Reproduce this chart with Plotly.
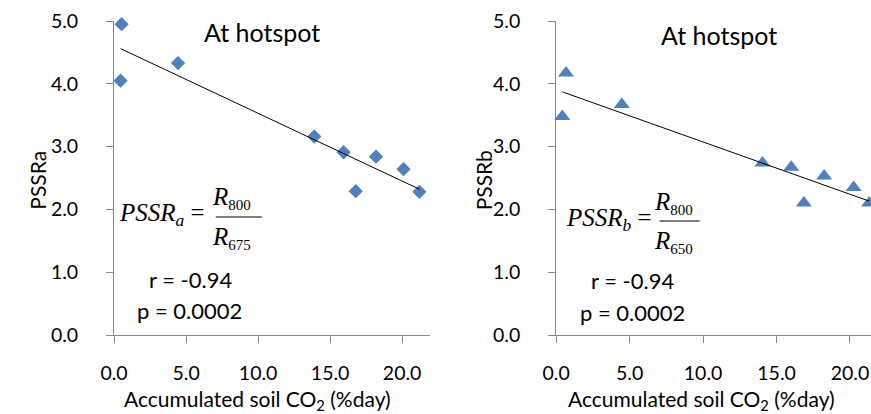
import numpy as np
import plotly.graph_objects as go

# ---- data ----
co2_a = [0.45, 0.52, 4.44, 13.9, 15.94, 16.78, 18.19, 20.1, 21.2]
pssr_a = [4.05, 4.95, 4.33, 3.16, 2.91, 2.29, 2.84, 2.64, 2.28]
co2_b = [0.42, 0.67, 4.47, 14.04, 16.0, 16.86, 18.24, 20.25, 21.3]
pssr_b = [3.48, 4.17, 3.67, 2.74, 2.67, 2.10, 2.53, 2.35, 2.10]
y_ticks = [0, 1, 2, 3, 4, 5]
x_ticks = [0, 5, 10, 15, 20]
title_text = "At hotspot"
x_title = "Accumulated soil CO<sub>2</sub> (%day)"
stats_text = ["r = -0.94", "p = 0.0002"]

W, H = 871, 414
T, B = 21, 79
PH = H - T - B

def px(x):
    return x / W

def py(y):
    return (H - B - y) / PH

BLUE = "#4F81BD"
AX = "#868686"
FONT = "Lato"

fig = go.Figure()

def trend(xs, ys):
    k, b = np.polyfit(xs, ys, 1)
    xx = np.array([min(xs), max(xs)])
    return xx, k * xx + b

# left panel
fig.add_trace(go.Scatter(x=co2_a, y=pssr_a, mode="markers", xaxis="x", yaxis="y",
                         marker=dict(symbol="diamond", size=11, color=BLUE, line=dict(width=0)),
                         cliponaxis=False, showlegend=False))
tx, ty = trend(co2_a, pssr_a)
fig.add_trace(go.Scatter(x=tx, y=ty, mode="lines", xaxis="x", yaxis="y",
                         line=dict(color="#000000", width=1), showlegend=False))
# right panel
fig.add_trace(go.Scatter(x=co2_b, y=pssr_b, mode="markers", xaxis="x2", yaxis="y2",
                         marker=dict(symbol="triangle-up", size=14, color=BLUE, line=dict(width=0)),
                         cliponaxis=False, showlegend=False))
tx, ty = trend(co2_b, pssr_b)
fig.add_trace(go.Scatter(x=tx, y=ty, mode="lines", xaxis="x2", yaxis="y2",
                         line=dict(color="#000000", width=1), showlegend=False))

axis_common = dict(showline=True, linecolor=AX, linewidth=1, ticks="outside",
                   ticklen=7, tickcolor=AX, showgrid=False, zeroline=False,
                   tickfont=dict(family=FONT, size=19.5, color="#000000"),
                   tickformat=".1f")

fig.update_layout(
    width=W, height=H,
    margin=dict(l=0, r=0, t=T, b=B),
    plot_bgcolor="white", paper_bgcolor="white",
    xaxis=dict(domain=[px(101.7), px(422.7)], range=[0, 21.93], tickvals=x_ticks,
               anchor="y", ticklabelstandoff=14, **axis_common),
    yaxis=dict(domain=[0, 1], range=[0, 5], tickvals=y_ticks, anchor="x",
               ticklabelstandoff=24, **axis_common),
    xaxis2=dict(domain=[px(551), 1.0], range=[0, 21.43], tickvals=x_ticks,
                anchor="y2", ticklabelstandoff=14, **axis_common),
    yaxis2=dict(domain=[0, 1], range=[0, 5], tickvals=y_ticks, anchor="x2",
                ticklabelstandoff=24, **axis_common),
)

ann = []

def text(x, y, s, size, family=FONT, angle=0):
    ann.append(dict(x=px(x), y=py(y), xref="paper", yref="paper", text=s,
                    showarrow=False, xanchor="center", yanchor="middle",
                    textangle=angle, font=dict(family=family, size=size, color="#000000")))

# titles
text(252, 32, title_text, 25)
text(717, 35, title_text, 25)
# axis titles
text(247.5, 400, x_title, 21)
text(699, 400, x_title, 21)
text(23, 180, "PSSRa", 21, angle=-90)
text(477, 180, "PSSRb", 21, angle=-90)
# stats
text(179, 279, stats_text[0], 22)
text(178.5, 310, stats_text[1], 22)
text(629, 280, stats_text[0], 22)
text(629, 312, stats_text[1], 22)

# formulas
SER = "Liberation Serif"
SUB = "<span style='font-size:15px'>"

def formula(eq_right, eq_y, sub, frac_x0, frac_x1, frac_y, num_y, den_y, den_sub, dx):
    ann.append(dict(x=px(eq_right), y=py(eq_y), xref="paper", yref="paper",
                    text="<i>PSSR</i><sub><i>" + sub + "</i></sub> =",
                    showarrow=False, xanchor="right", yanchor="middle",
                    font=dict(family=SER, size=25, color="#000000")))
    cx = (frac_x0 + frac_x1) / 2 + dx
    ann.append(dict(x=px(cx), y=py(num_y), xref="paper", yref="paper",
                    text="<i>R</i><sub>" + SUB + "800</span></sub>", showarrow=False,
                    xanchor="center", yanchor="middle",
                    font=dict(family=SER, size=25, color="#000000")))
    ann.append(dict(x=px(cx), y=py(den_y), xref="paper", yref="paper",
                    text="<i>R</i><sub>" + SUB + den_sub + "</span></sub>", showarrow=False,
                    xanchor="center", yanchor="middle",
                    font=dict(family=SER, size=25, color="#000000")))
    fig.add_shape(type="line", xref="paper", yref="paper",
                  x0=px(frac_x0), x1=px(frac_x1), y0=py(frac_y), y1=py(frac_y),
                  line=dict(color="#000000", width=1))

formula(196, 214, "a", 205, 252, 217, 198, 238, "675", -7)
formula(650, 219, "b", 656, 697, 221, 203, 242, "650", -6)

fig.update_layout(annotations=ann)
fig.write_html("out.html")
